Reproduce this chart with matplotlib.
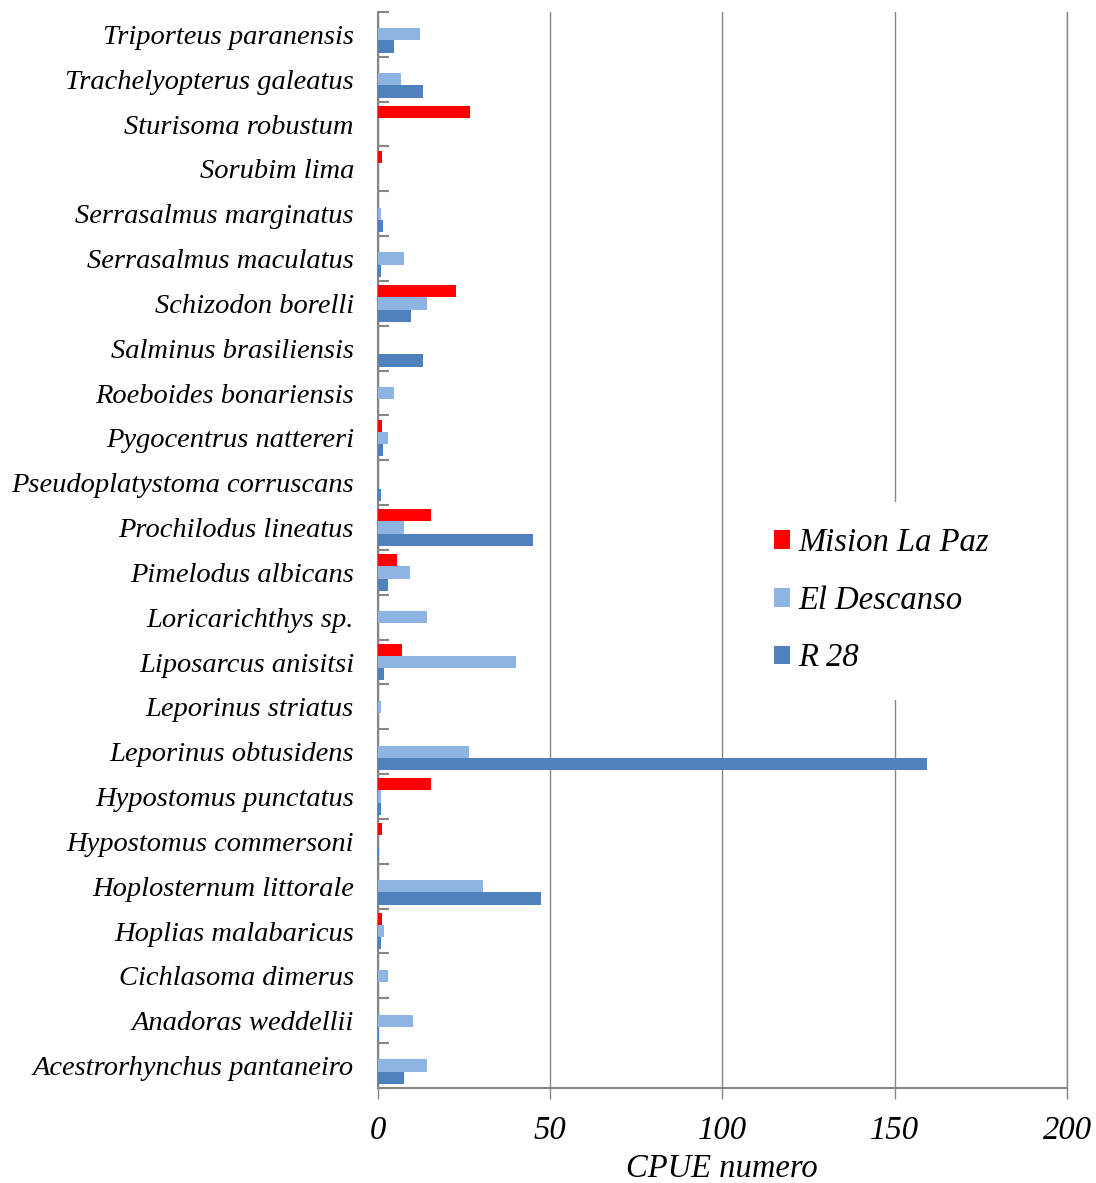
import numpy as np
import matplotlib
matplotlib.use("Agg")
import matplotlib.pyplot as plt

plt.rcParams['font.family'] = ['Liberation Serif', 'DejaVu Serif']

# species listed bottom -> top (as drawn by barh)
species = ["Acestrorhynchus pantaneiro", "Anadoras weddellii", "Cichlasoma dimerus",
           "Hoplias malabaricus", "Hoplosternum littorale", "Hypostomus commersoni",
           "Hypostomus punctatus", "Leporinus obtusidens", "Leporinus striatus",
           "Liposarcus anisitsi", "Loricarichthys sp.", "Pimelodus albicans",
           "Prochilodus lineatus", "Pseudoplatystoma corruscans", "Pygocentrus nattereri",
           "Roeboides bonariensis", "Salminus brasiliensis", "Schizodon borelli",
           "Serrasalmus maculatus", "Serrasalmus marginatus", "Sorubim lima",
           "Sturisoma robustum", "Trachelyopterus galeatus", "Triporteus paranensis"]

mision = [0, 0, 0, 1.4, 0, 1.4, 15.5, 0, 0, 7.1, 0, 5.7,
          15.5, 0, 1.4, 0, 0, 22.7, 0, 0, 1.4, 26.8, 0, 0]
descanso = [14.3, 10.4, 2.9, 1.9, 30.5, 0, 0.9, 26.6, 0.9, 40.1, 14.3, 9.5,
            7.6, 0, 2.9, 4.8, 0, 14.3, 7.6, 0.9, 0, 0, 6.7, 12.3]
r28 = [7.8, 0.5, 0, 0.9, 47.3, 0.5, 0.9, 159.4, 0, 2.0, 0, 2.9,
       45.0, 0.9, 1.5, 0, 13.3, 9.7, 0.9, 1.5, 0, 0, 13.3, 4.9]

fig = plt.figure(figsize=(10.96, 11.83), dpi=100)
ax = fig.add_axes([0.3445, 0.0803, 0.6291, 0.9096])

y = np.arange(len(species))
h = 0.273
ax.barh(y + h, mision, height=h, color="#FF0000", label="Mision La Paz", zorder=3)
ax.barh(y, descanso, height=h, color="#8EB4E3", label="El Descanso", zorder=3)
ax.barh(y - h, r28, height=h, color="#4F81BD", label="R 28", zorder=3)

ax.set_xlim(0, 200)
ax.set_ylim(-0.5, len(species) - 0.5)
ax.set_xticks([0, 50, 100, 150, 200])
ax.set_xticklabels(["0", "50", "100", "150", "200"], fontsize=23.5, style="italic")
ax.set_yticks(y)
ax.set_yticklabels(species, fontsize=20.5, style="italic")
ax.tick_params(axis="y", length=0, pad=17)
ax.set_yticks(np.arange(-0.5, len(species), 1), minor=True)
ax.tick_params(axis="y", which="minor", direction="in", length=8, color="#868686", width=1.5)
ax.tick_params(axis="x", length=8, color="#868686", width=1, pad=12)

ax.grid(axis="x", color="#868686", linewidth=1, zorder=0)
ax.spines["top"].set_visible(False)
ax.spines["right"].set_color("#868686")
ax.spines["right"].set_linewidth(1)
ax.spines["left"].set_color("#868686")
ax.spines["bottom"].set_color("#868686")
ax.spines["left"].set_linewidth(1.5)
ax.spines["bottom"].set_linewidth(1.5)

ax.set_xlabel("CPUE numero", fontsize=23.5, style="italic", labelpad=5)

leg = ax.legend(loc="center left", bbox_to_anchor=(0.513, 0.453), frameon=True,
                fancybox=False, framealpha=1, edgecolor="none", facecolor="white",
                prop={"size": 23.5, "style": "italic"}, handlelength=0.5, handleheight=0.5,
                handletextpad=0.25, labelspacing=0.83, borderpad=0.8)

fig.savefig("out.png", dpi=100)
